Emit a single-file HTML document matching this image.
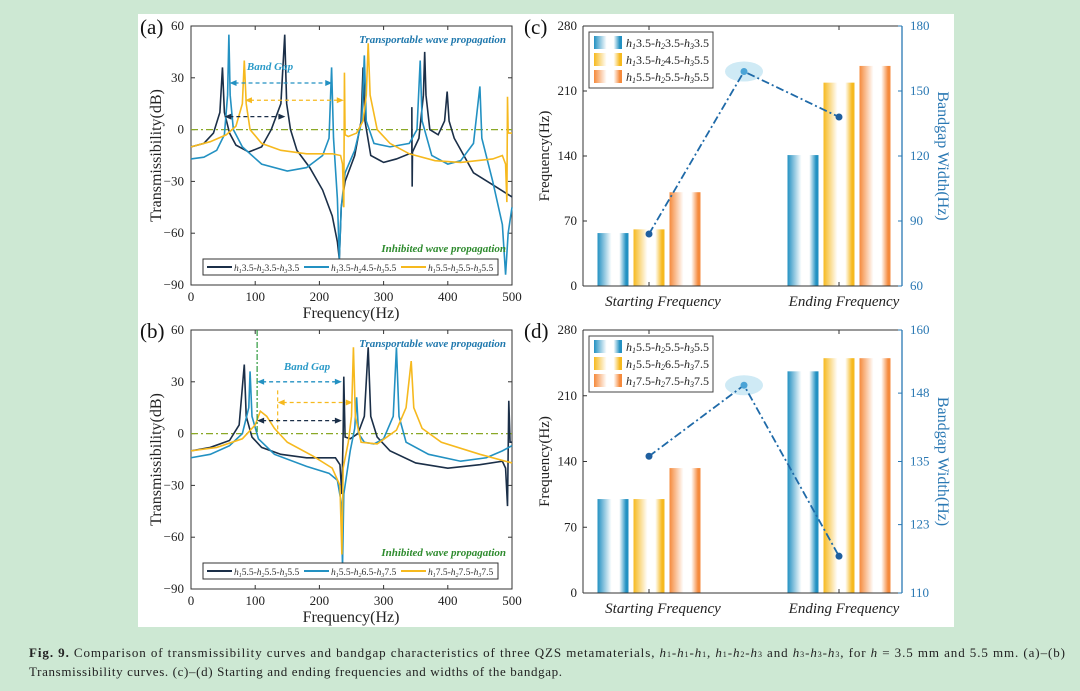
<!DOCTYPE html>
<html><head><meta charset="utf-8">
<style>
body{margin:0;width:1080px;height:691px;background:#cde8d3;overflow:hidden;font-family:"Liberation Serif",serif}
svg{position:absolute;left:0;top:0}
</style></head>
<body>
<svg id="s" width="1080" height="691" viewBox="0 0 1080 691" xmlns="http://www.w3.org/2000/svg" font-family="Liberation Serif, serif">
<rect x="138" y="14" width="816" height="613" fill="#fff"/>
<g id="g"></g>
<text x="29" y="657" font-size="13" fill="#222" textLength="1036" lengthAdjust="spacing"><tspan font-weight="bold">Fig. 9.</tspan> Comparison of transmissibility curves and bandgap characteristics of three QZS metamaterials, <tspan font-style="italic">h</tspan><tspan font-size="8">1</tspan>-<tspan font-style="italic">h</tspan><tspan font-size="8">1</tspan>-<tspan font-style="italic">h</tspan><tspan font-size="8">1</tspan>, <tspan font-style="italic">h</tspan><tspan font-size="8">1</tspan>-<tspan font-style="italic">h</tspan><tspan font-size="8">2</tspan>-<tspan font-style="italic">h</tspan><tspan font-size="8">3</tspan> and <tspan font-style="italic">h</tspan><tspan font-size="8">3</tspan>-<tspan font-style="italic">h</tspan><tspan font-size="8">3</tspan>-<tspan font-style="italic">h</tspan><tspan font-size="8">3</tspan>, for <tspan font-style="italic">h</tspan> = 3.5 mm and 5.5 mm. (a)–(b)</text>
<text x="29" y="676" font-size="13" fill="#222" textLength="533" lengthAdjust="spacing">Transmissibility curves. (c)–(d) Starting and ending frequencies and widths of the bandgap.</text>
</svg>
<script>
// ---- data: panel (a) curves [freq, dB] ----
const aNavy=[[0,-10],[20,-8],[35,-2],[45,10],[49,36],[52,10],[60,-2],[70,-9],[90,-13],[110,-10],[125,0],[140,15],[146,55],[149,15],[155,0],[165,-12],[185,-22],[205,-35],[220,-50],[228,-65],[231,-75],[234,-45],[240,-30],[255,-15],[265,5],[268,36],[271,5],[280,-15],[300,-19],[320,-17],[340,-14],[344,-14],[344,13],[344.5,-33],[345,-13],[355,-5],[362,20],[364,45],[366,20],[372,0],[385,-3],[395,5],[399,22],[402,5],[410,-5],[425,-15],[440,-25],[470,-32],[500,-39]];
const aCyan=[[0,-17],[20,-16],[40,-12],[52,-3],[57,20],[59,55],[61,20],[66,0],[80,-10],[110,-20],[150,-24],[180,-22],[205,-15],[215,-5],[219,36],[222,-5],[228,-40],[231,-75],[234,-45],[240,-25],[255,-12],[266,5],[270,43],[273,5],[285,-8],[310,-10],[340,-8],[352,0],[357,40],[360,5],[375,-15],[400,-20],[420,-18],[440,-8],[450,25],[453,-5],[470,-30],[485,-55],[490,-84],[494,-60],[500,-45]];
const aYellow=[[0,-10],[30,-7],[55,-3],[70,2],[80,15],[83,40],[86,15],[92,0],[110,-8],[140,-12],[180,-14],[220,-14],[233,-15],[236,-20],[238,-45],[239,33],[240,-3],[245,-4],[258,-2],[268,5],[273,20],[276,50],[279,20],[290,0],[310,-8],[340,-14],[380,-18],[420,-19],[470,-17],[485,-15],[490,-20],[492,-42],[493,19],[494,-2],[500,-2]];
// ---- data: panel (b) curves ----
const bNavy=[[0,-10],[30,-8],[60,-4],[75,5],[83,40],[86,10],[95,-2],[110,-8],[140,-12],[180,-14],[225,-14],[232,-18],[235,-35],[237,0],[238,33],[240,-2],[248,-3],[260,0],[270,10],[276,50],[280,10],[290,-2],[310,-10],[350,-17],[400,-20],[450,-18],[485,-16],[490,-20],[493,-42],[495,19],[497,-5],[500,-5]];
const bCyan=[[0,-14],[30,-12],[60,-7],[80,0],[90,15],[92,36],[95,10],[105,-3],[130,-12],[180,-19],[215,-23],[228,-27],[234,-40],[236,-77],[238,-35],[248,-10],[255,3],[258,21],[261,0],[270,-5],[285,-6],[300,-3],[315,10],[320,50],[324,10],[335,-5],[370,-12],[420,-16],[460,-14],[485,-10],[500,-7]];
const bYellow=[[0,-10],[40,-8],[80,-3],[100,5],[108,13],[118,10],[130,3],[150,-5],[190,-13],[220,-20],[232,-30],[235,-70],[237,-20],[245,-5],[250,10],[253,50],[256,10],[265,-5],[290,-6],[320,2],[335,15],[343,42],[347,15],[360,3],[390,-5],[450,-12],[500,-17]];
const xTicks=[0,100,200,300,400,500];
const yTicks=[60,30,0,-30,-60,-90];
// ---- data: bar panels ----
const categories=["Starting Frequency","Ending Frequency"];
const cStart=[57,61,101];
const cEnd=[141,219,237];
const cWidth=[84,159,138];
const dStart=[100,100,133];
const dEnd=[236,250,250];
const dWidth=[136,149.5,117];
const freqTicks=[0,70,140,210,280];
const cRightTicks=[60,90,120,150,180];
const dRightTicks=[110,123,135,148,160];
const cLegend=["3.5","3.5","3.5","3.5","4.5","5.5","5.5","5.5","5.5"];
const dLegend=["5.5","5.5","5.5","5.5","6.5","7.5","7.5","7.5","7.5"];
const aLegend=[["3.5","3.5","3.5"],["3.5","4.5","5.5"],["5.5","5.5","5.5"]];
const bLegend=[["5.5","5.5","5.5"],["5.5","6.5","7.5"],["7.5","7.5","7.5"]];

const NS="http://www.w3.org/2000/svg";
const G=document.getElementById('g');
function el(t,a,p){const e=document.createElementNS(NS,t);for(const k in a)e.setAttribute(k,a[k]);(p||G).appendChild(e);return e;}
const NAVY="#1b2f48",CYAN="#2391c2",YEL="#f6b91e",ORG="#f58a3c",BLUE="#2a78b3";

function linePanel(top,bot,series,legendVals,label,isB){
  const L=191,R=512;
  const sx=f=>L+(f/500)*(R-L), sy=d=>top+(60-d)/150*(bot-top);
  let t;
  t=el('text',{x:140,y:top+8,'font-size':21,fill:'#111'});t.textContent=label;
  
  
  let r=el('rect',{x:L,y:top,width:R-L,height:bot-top,fill:'none',stroke:'#333','stroke-width':1});
  
  
  xTicks.forEach(v=>{el('line',{x1:sx(v),x2:sx(v),y1:bot,y2:bot-4,stroke:'#333'});el('line',{x1:sx(v),x2:sx(v),y1:top,y2:top+4,stroke:'#333'});
    t=el('text',{x:sx(v),y:bot+16,'font-size':13,'text-anchor':'middle',fill:'#222'});t.textContent=v;
    
    });
  yTicks.forEach(v=>{el('line',{x1:L,x2:L+4,y1:sy(v),y2:sy(v),stroke:'#333'});el('line',{x1:R,x2:R-4,y1:sy(v),y2:sy(v),stroke:'#333'});
    t=el('text',{x:L-7,y:sy(v)+4,'font-size':13,'text-anchor':'end',fill:'#222'});t.textContent=v<0?'−'+(-v):v;
    
    });
  t=el('text',{x:351,y:bot+33,'font-size':16,'text-anchor':'middle',fill:'#222'});t.textContent='Frequency(Hz)';
  
  
  t=el('text',{x:0,y:0,'font-size':16,'text-anchor':'middle',fill:'#222',transform:`translate(161,${(top+bot)/2}) rotate(-90)`});t.textContent='Transmissibility(dB)';
  
  
  let z=el('line',{x1:L,x2:R,y1:sy(0),y2:sy(0),stroke:'#8aa826','stroke-width':1.2,'stroke-dasharray':'7 3 2 3'});
  
  
  const cols=[NAVY,CYAN,YEL];
  series.forEach((s,i)=>{const p=el('polyline',{points:s.map(q=>sx(q[0])+','+sy(q[1])).join(' '),fill:'none',stroke:cols[i],'stroke-width':1.6});
    
    });
  t=el('text',{x:506,y:top+17,'font-size':11,'font-weight':'bold','font-style':'italic','text-anchor':'end',fill:'#1f78ad'});t.textContent='Transportable wave propagation';
  
  
  t=el('text',{x:506,y:bot-33,'font-size':11,'font-weight':'bold','font-style':'italic','text-anchor':'end',fill:'#2e8b2e'});t.textContent='Inhibited wave propagation';
  
  
  const ly=bot-26;
  r=el('rect',{x:203,y:ly,width:295,height:16,fill:'#fff',stroke:'#333'});
  
  
  legendVals.forEach((v,i)=>{const x0=207+i*97;
    el('line',{x1:x0,x2:x0+25,y1:ly+8,y2:ly+8,stroke:cols[i],'stroke-width':2});
    const tt=el('text',{x:x0+27,y:ly+12,'font-size':9.5,fill:'#333','font-style':'italic'});
    tt.innerHTML=`h<tspan font-size="6" dy="2">1</tspan><tspan font-style="normal" dy="-2">${v[0]}-</tspan>h<tspan font-size="6" dy="2">2</tspan><tspan font-style="normal" dy="-2">${v[1]}-</tspan>h<tspan font-size="6" dy="2">3</tspan><tspan font-style="normal" dy="-2">${v[2]}</tspan>`;
    
    });
  function arrow(f1,f2,d,c){const y=sy(d);const a=el('line',{x1:sx(f1)+5,x2:sx(f2)-5,y1:y,y2:y,stroke:c,'stroke-width':1.3,'stroke-dasharray':'4 3'});
    
    
    el('path',{d:`M${sx(f1)},${y} l7,-3 v6z`,fill:c});el('path',{d:`M${sx(f2)},${y} l-7,-3 v6z`,fill:c});}
  if(!isB){arrow(60,220,27,CYAN);arrow(84,238,17,YEL);arrow(52,147,7.5,NAVY);
    t=el('text',{x:270,y:top+44,'font-size':11,'font-weight':'bold','font-style':'italic','text-anchor':'middle',fill:'#2a9ac8'});}
  else{el('line',{x1:sx(103),x2:sx(103),y1:top,y2:sy(0),stroke:'#2e9a3e','stroke-width':1.2,'stroke-dasharray':'6 2 2 2'});
    el('line',{x1:sx(135),x2:sx(135),y1:sy(25),y2:sy(0),stroke:YEL,'stroke-width':1.2,'stroke-dasharray':'4 3'});
    arrow(103,235,30,CYAN);arrow(135,252,18,YEL);arrow(103,235,7.5,NAVY);
    t=el('text',{x:307,y:top+40,'font-size':11,'font-weight':'bold','font-style':'italic','text-anchor':'middle',fill:'#2a9ac8'});}
  t.textContent='Band Gap';
  
  
}
linePanel(26,285,[aNavy,aCyan,aYellow],aLegend,'(a)',false);
linePanel(330,589,[bNavy,bCyan,bYellow],bLegend,'(b)',true);

const defs=el('defs',{});
[[CYAN,'gc'],[YEL,'gy'],[ORG,'go']].forEach(([c,id])=>{const lg=el('linearGradient',{id,x1:0,x2:1,y1:0,y2:0},defs);
  el('stop',{offset:0,'stop-color':c},lg);el('stop',{offset:0.45,'stop-color':'#fff'},lg);el('stop',{offset:0.7,'stop-color':'#fff'},lg);el('stop',{offset:0.92,'stop-color':c},lg);el('stop',{offset:1,'stop-color':c},lg);});

function barPanel(top,bot,start,end,width,rTicks,legVals,label){
  const L=583,R=902;
  const sy=v=>bot-v/280*(bot-top);
  const rmin=rTicks[0],rmax=rTicks[rTicks.length-1];
  const ry=v=>bot-(v-rmin)/(rmax-rmin)*(bot-top);
  const cx=[649,839],bw=31,gap=36;
  let t=el('text',{x:524,y:top+8,'font-size':21,fill:'#111'});t.textContent=label;
  
  
  const ids=['gc','gy','go'];
  [start,end].forEach((vals,ci)=>vals.forEach((v,i)=>{const x=cx[ci]+(i-1)*gap-bw/2;
    const b=el('rect',{x,y:sy(v),width:bw,height:bot-sy(v),fill:`url(#${ids[i]})`});
    
    }));
  el('line',{x1:L,x2:R,y1:bot,y2:bot,stroke:'#333'});
  el('line',{x1:L,x2:R,y1:top,y2:top,stroke:'#333'});
  el('line',{x1:L,x2:L,y1:top,y2:bot,stroke:'#333'});
  el('line',{x1:R,x2:R,y1:top,y2:bot,stroke:BLUE,'stroke-width':1.3});
  freqTicks.forEach(v=>{el('line',{x1:L,x2:L+4,y1:sy(v),y2:sy(v),stroke:'#333'});
    t=el('text',{x:L-6,y:sy(v)+4,'font-size':13,'text-anchor':'end',fill:'#222'});t.textContent=v;
    
    });
  rTicks.forEach(v=>{el('line',{x1:R,x2:R-4,y1:ry(v),y2:ry(v),stroke:BLUE});
    t=el('text',{x:R+8,y:ry(v)+4,'font-size':13,fill:BLUE});t.textContent=v;
    
    });
  categories.forEach((c,i)=>{el('line',{x1:cx[i],x2:cx[i],y1:bot,y2:bot-4,stroke:'#333'});el('line',{x1:cx[i],x2:cx[i],y1:top,y2:top+4,stroke:'#333'});
    t=el('text',{x:cx[i]+(i?5:14),y:bot+20,'font-size':15,'font-style':'italic','text-anchor':'middle',fill:'#222'});t.textContent=c;
    
    });
  t=el('text',{x:0,y:0,'font-size':15,'text-anchor':'middle',fill:'#222',transform:`translate(549,${(top+bot)/2}) rotate(-90)`});t.textContent='Frequency(Hz)';
  
  
  t=el('text',{x:0,y:0,'font-size':16,'text-anchor':'middle',fill:BLUE,transform:`translate(938,${(top+bot)/2}) rotate(90)`});t.textContent='Bandgap Width(Hz)';
  
  
  const px=[cx[0],(cx[0]+cx[1])/2,cx[1]];
  el('ellipse',{cx:px[1],cy:ry(width[1]),rx:19,ry:10,fill:'#cfeaf5'});
  const pl=el('polyline',{points:width.map((v,i)=>px[i]+','+ry(v)).join(' '),fill:'none',stroke:'#1f6aa8','stroke-width':1.8,'stroke-dasharray':'8 3 2 3'});
  
  
  width.forEach((v,i)=>{const c=el('circle',{cx:px[i],cy:ry(v),r:3.5,fill:i==1?'#4aa3d6':'#1f5f9f'});
    
    });
  const lx=589,ly=top+6;
  const r=el('rect',{x:lx,y:ly,width:124,height:56,fill:'#fff',stroke:'#444'});
  
  
  for(let i=0;i<3;i++){const y=ly+4+i*17;
    el('rect',{x:lx+5,y,width:28,height:13,fill:`url(#${ids[i]})`});
    const tt=el('text',{x:lx+37,y:y+11,'font-size':12,fill:'#222','font-style':'italic'});
    tt.innerHTML=`h<tspan font-size="8" dy="2">1</tspan><tspan font-style="normal" dy="-2">${legVals[i*3]}-</tspan>h<tspan font-size="8" dy="2">2</tspan><tspan font-style="normal" dy="-2">${legVals[i*3+1]}-</tspan>h<tspan font-size="8" dy="2">3</tspan><tspan font-style="normal" dy="-2">${legVals[i*3+2]}</tspan>`;
    
    }
}
barPanel(26,286,cStart,cEnd,cWidth,cRightTicks,cLegend,'(c)');
barPanel(330,593,dStart,dEnd,dWidth,dRightTicks,dLegend,'(d)');
</script>
</body></html>
